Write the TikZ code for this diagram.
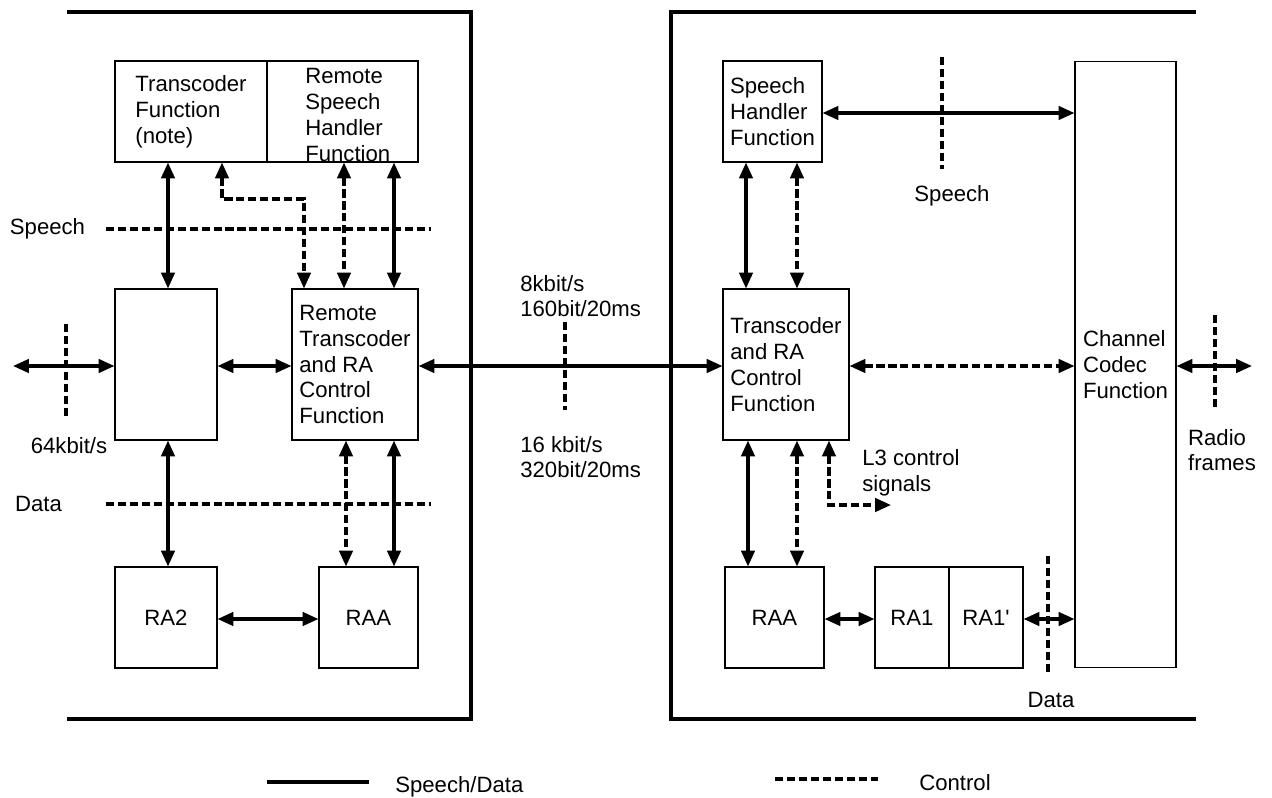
\documentclass[tikz,border=0pt]{standalone}
\usepackage{fontspec}
\setmainfont{Liberation Sans}
\usetikzlibrary{arrows.meta}

\begin{document}
\begin{tikzpicture}[x=0.02cm,y=-0.02cm,
  >={Triangle[length=9pt,width=7.6pt]},
  font=\fontsize{12.6}{14.7}\selectfont,
  blk/.style={draw,line width=0.6pt,inner sep=0pt,align=left},
  sd/.style={line width=1.8pt},
  ctl/.style={line width=1.8pt,dash pattern=on 4.6pt off 2.2pt},
  encl/.style={line width=1.8pt},
  lbl/.style={inner sep=0pt,align=left}]
  \useasboundingbox (0,0) rectangle (1272,798);

  \draw[encl] (67,12) -| (471,719) -- (67,719);
  \draw[encl] (1196,12) -- (671,12) |- (1196,719);

  \node[blk,minimum width=3.04cm,minimum height=2.02cm] (tf) at (191,111.5) {Transcoder\\Function\\(note)};
  \node[blk,minimum width=3.02cm,minimum height=2.02cm] (rsh) at (342.5,111.5) {};
  \node[lbl,anchor=north west] (rshtxt) at (305,68) {Remote\\Speech\\Handler\\Function};
  \node[blk,minimum width=2.04cm,minimum height=3.02cm] (mid) at (166,364.5) {};
  \node[blk,minimum width=2.52cm,minimum height=3.02cm] (rtc) at (355,364.5) {Remote\\Transcoder\\and RA\\Control\\Function};
  \node[blk,minimum width=2.04cm,minimum height=2.02cm] (ra2) at (166,617.5) {RA2};
  \node[blk,minimum width=1.98cm,minimum height=2.02cm] (raal) at (368.5,617.5) {RAA};

  \node[blk,minimum width=1.98cm,minimum height=2.02cm] (sh) at (772.5,111.5) {Speech\\Handler\\Function};
  \node[blk,minimum width=2.52cm,minimum height=3.02cm] (tc) at (786,364.5) {Transcoder\\and RA\\Control\\Function};
  \node[blk,minimum width=1.98cm,minimum height=2.02cm] (raar) at (774.5,617.5) {RAA};
  \node[blk,minimum width=1.48cm,minimum height=2.02cm] (ra1) at (912,617.5) {RA1};
  \node[blk,minimum width=1.48cm,minimum height=2.02cm] (ra1p) at (986,617.5) {RA1\textquotesingle};
  \node[blk,minimum width=2.02cm,minimum height=12.14cm] (cc) at (1125.5,364.5) {Channel\\Codec\\Function};

  \node[lbl] (spl) at (47.5,229) {Speech};
  \node[lbl] (datal) at (38.5,504) {Data};
  \node[lbl] (r64) at (69,446) {64kbit/s};
  \node[lbl,anchor=west] (r8) at (520,296) {8kbit/s\\160bit/20ms};
  \node[lbl,anchor=west] (r16) at (520,457) {16 kbit/s\\320bit/20ms};
  \node[lbl] (spr) at (952,196) {Speech};
  \node[lbl] (l3) at (911,472.5) {L3 control\\signals};
  \node[lbl] (radio) at (1222,450) {Radio\\frames};
  \node[lbl] (datar) at (1051,700) {Data};
  \node[lbl,anchor=west] (lgsd) at (395,787) {Speech/Data};
  \node[lbl,anchor=west] (lgctl) at (919,783) {Control};

  \draw[sd,<->] (168,0 |- tf.south) -- (168,0 |- mid.north);
  \draw[ctl,<->] (222,0 |- tf.south) -- (222,199) -- (304,199) -- (304,0 |- rtc.north);
  \draw[ctl,<->] (344,0 |- rsh.south) -- (344,0 |- rtc.north);
  \draw[sd,<->] (394,0 |- rsh.south) -- (394,0 |- rtc.north);
  \draw[ctl] (106,0 |- spl) -- (431,0 |- spl);
  \coordinate (extl) at (13,366);
  \draw[sd,<->] (extl) -- (extl -| mid.west);
  \draw[ctl] (66,324) -- (66,417);
  \draw[sd,<->] (mid.east |- 0,366) -- (rtc.west |- 0,366);
  \draw[sd,<->] (rtc.east |- 0,366) -- (tc.west |- 0,366);
  \draw[ctl] (565,322) -- (565,410);
  \draw[sd,<->] (168,0 |- mid.south) -- (168,0 |- ra2.north);
  \draw[ctl,<->] (346,0 |- rtc.south) -- (346,0 |- raal.north);
  \draw[sd,<->] (394,0 |- rtc.south) -- (394,0 |- raal.north);
  \draw[ctl] (106,0 |- datal) -- (431,0 |- datal);
  \draw[sd,<->] (ra2.east |- 0,619) -- (raal.west |- 0,619);

  \draw[sd,<->] (sh.east |- 0,113) -- (cc.west |- 0,113);
  \draw[ctl] (942,57) -- (942,169);
  \draw[sd,<->] (746,0 |- sh.south) -- (746,0 |- tc.north);
  \draw[ctl,<->] (797,0 |- sh.south) -- (797,0 |- tc.north);
  \draw[ctl,<->] (tc.east |- 0,366) -- (cc.west |- 0,366);
  \coordinate (extr) at (1252,366);
  \draw[sd,<->] (cc.east |- extr) -- (extr);
  \draw[ctl] (1215,315) -- (1215,409);
  \draw[sd,<->] (748,0 |- tc.south) -- (748,0 |- raar.north);
  \draw[ctl,<->] (797,0 |- tc.south) -- (797,0 |- raar.north);
  \coordinate (l3end) at (891,505);
  \draw[ctl,<->] (829,0 |- tc.south) |- (l3end);
  \draw[sd,<->] (raar.east |- 0,619) -- (ra1.west |- 0,619);
  \draw[sd,<->] (ra1p.east |- 0,619) -- (cc.west |- 0,619);
  \draw[ctl] (1048,556) -- (1048,675);

  \draw[sd] (267,782) -- (369,782);
  \draw[ctl] (775,779) -- (878,779);
\end{tikzpicture}
\end{document}
